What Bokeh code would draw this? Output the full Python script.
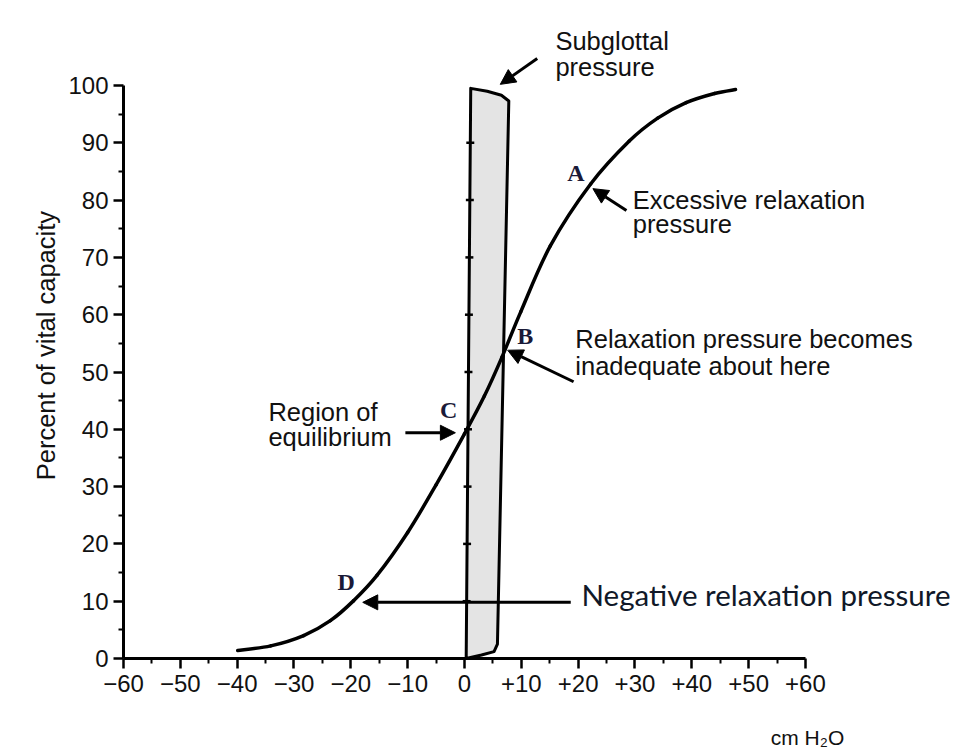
import numpy as np
from bokeh.plotting import figure
from bokeh.models import (Range1d, FixedTicker, Label, Arrow, NormalHead)
from bokeh.embed import file_html
from bokeh.resources import INLINE

# ---------------- data ----------------
# relaxation pressure curve (cm H2O vs percent of vital capacity)
curve_x = [-39.9, -34.1, -28.3, -23.6, -19.5, -15.4, -10.0, -5.0, 0.0, 3.5,
           6.6, 9.9, 15.1, 22.2, 29.0, 34.0, 39.0, 44.0, 47.7]
curve_y = [1.4, 2.2, 4.0, 6.6, 10.1, 14.5, 22.0, 30.3, 39.2, 45.8,
           52.6, 60.5, 72.0, 82.8, 90.3, 94.3, 97.0, 98.6, 99.3]

# subglottal pressure band outline
band_x = [0.3, 1.1, 4.0, 6.5, 7.8, 5.8, 5.2, 3.0, 0.3]
band_y = [0.0, 99.5, 99.0, 98.3, 97.3, 2.5, 1.2, 0.6, 0.0]

# small ticks along the zero-pressure edge
edge_ticks = [10, 20, 30, 40, 50, 60, 70, 80, 90]

x_ticks = [-60, -50, -40, -30, -20, -10, 0, 10, 20, 30, 40, 50, 60]
x_tick_labels = ["\u221260", "\u221250", "\u221240", "\u221230", "\u221220", "\u221210",
                 "0", "+10", "+20", "+30", "+40", "+50", "+60"]
x_minor = [-55, -45, -35, -25, -15, -5, 5, 15, 25, 35, 45, 55]
y_ticks = [0, 10, 20, 30, 40, 50, 60, 70, 80, 90, 100]
y_minor = [5, 15, 25, 35, 45, 55, 65, 75, 85, 95]

# ---------------- figure ----------------
W, H = 957, 751
X0_PX = 123         # pixel of x = -60
ZERO_Y = 658        # pixel of y = 0
px_per_x = 5.683
px_per_y = 5.73
x_start = -60 - X0_PX / px_per_x
x_end = -60 + (W - X0_PX) / px_per_x
y_end = ZERO_Y / px_per_y
y_start = -(H - ZERO_Y) / px_per_y

p = figure(width=W, height=H, output_backend="svg", toolbar_location=None,
           x_range=Range1d(x_start, x_end), y_range=Range1d(y_start, y_end),
           min_border_left=0, min_border_right=0, min_border_top=0,
           min_border_bottom=0)
p.outline_line_color = None
p.grid.visible = False
p.background_fill_color = "white"
p.border_fill_color = "white"

SANS = "Liberation Sans"
INK = "#111111"

xa = p.xaxis[0]
xa.bounds = (-60, 60)
xa.fixed_location = 0
xa.ticker = FixedTicker(ticks=x_ticks, minor_ticks=x_minor)
xa.major_label_overrides = {t: l for t, l in zip(x_ticks, x_tick_labels)}
ya = p.yaxis[0]
ya.bounds = (0, 100)
ya.fixed_location = -60
ya.ticker = FixedTicker(ticks=y_ticks, minor_ticks=y_minor)
for ax in (xa, ya):
    ax.axis_line_width = 3
    ax.axis_line_color = "black"
    ax.major_tick_line_width = 2.5
    ax.major_tick_out = 10
    ax.major_tick_in = 0
    ax.minor_tick_line_width = 2
    ax.minor_tick_out = 5
    ax.minor_tick_in = 0
    ax.major_label_text_font = SANS
    ax.major_label_text_font_size = "24px"
    ax.major_label_text_color = INK
xa.major_label_standoff = 6
ya.major_label_standoff = 5

# subglottal band
p.patch(band_x, band_y, fill_color="#e4e4e4", line_color="black", line_width=3,
        line_join="round")
edge_x = np.interp(edge_ticks, band_y[:2], band_x[:2])
p.segment(x0=edge_x - 0.7, y0=edge_ticks, x1=edge_x + 0.7, y1=edge_ticks,
          line_color="black", line_width=2.5)

# relaxation curve, drawn as smooth bezier pieces through the read points
cx = np.array(curve_x); cy = np.array(curve_y)
px_ = np.concatenate([[cx[0]], cx, [cx[-1]]])
py_ = np.concatenate([[cy[0]], cy, [cy[-1]]])
n = len(cx)
x0 = cx[:-1]; y0 = cy[:-1]; x1 = cx[1:]; y1 = cy[1:]
cx0 = px_[1:n] + (px_[2:n + 1] - px_[0:n - 1]) / 6.0
cy0 = py_[1:n] + (py_[2:n + 1] - py_[0:n - 1]) / 6.0
cx1 = px_[2:n + 1] - (px_[3:n + 2] - px_[1:n]) / 6.0
cy1 = py_[2:n + 1] - (py_[3:n + 2] - py_[1:n]) / 6.0
p.bezier(x0=x0, y0=y0, x1=x1, y1=y1, cx0=cx0, cy0=cy0, cx1=cx1, cy1=cy1,
         line_color="black", line_width=3.5, line_cap="round")

# ---------------- annotations ----------------
def txt(x, y, s, size="25.5px", font=SANS, style="normal", color=INK, align="left",
        baseline="alphabetic", angle=0):
    p.add_layout(Label(x=x, y=y, text=s, text_font=font, text_font_size=size,
                       text_font_style=style, text_color=color, text_align=align,
                       text_baseline=baseline, angle=angle, angle_units="deg"))

def arrow(xs, ys, xe, ye):
    p.add_layout(Arrow(end=NormalHead(size=15, fill_color="black", line_color="black"),
                       x_start=xs, y_start=ys, x_end=xe, y_end=ye,
                       line_width=3, line_color="black"))

# y axis title
txt(-73.7, 54.6, "Percent of vital capacity", align="center", baseline="middle", angle=90)

txt(16.0, 107.7, "Subglottal")
txt(16.0, 103.3, "pressure")
arrow(12.8, 104.7, 6.3, 100.2)

txt(29.6, 80.1, "Excessive relaxation")
txt(29.6, 75.8, "pressure")
arrow(28.5, 78.2, 22.6, 82.0)

txt(19.5, 55.7, "Relaxation pressure becomes")
txt(19.5, 51.0, "inadequate about here")
arrow(19.2, 48.3, 7.6, 53.8)

txt(-34.5, 43.0, "Region of")
txt(-34.5, 38.6, "equilibrium")
arrow(-10.4, 39.4, -1.6, 39.4)

txt(20.6, 11.1, "Negative relaxation pressure", size="29.5px", font="Lato", color="#101828")
arrow(18.7, 9.8, -17.9, 9.8)

SERIF = "Liberation Serif"
for lx, ly, s in [(19.6, 84.8, "A"), (10.7, 56.2, "B"), (-2.8, 43.3, "C"), (-20.8, 13.3, "D")]:
    txt(lx, ly, s, size="24px", font=SERIF, style="bold", color="#1a1a38", align="center")

# x axis unit label, at the right end below the tick labels
txt(53.9, -13.7, "cm H\u2082O", size="21px")

open("out.html", "w").write(file_html(p, INLINE))
